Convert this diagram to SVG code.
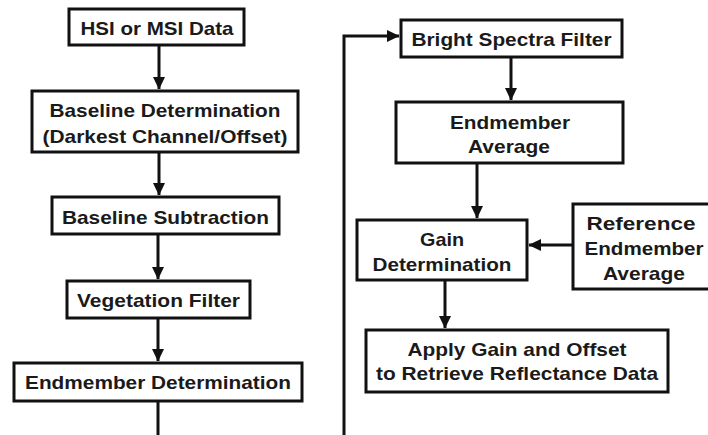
<svg xmlns="http://www.w3.org/2000/svg" width="708" height="435" viewBox="0 0 708 435">
<defs>
<style>
.box{fill:#fff;stroke:#111;stroke-width:3}
.t{font-family:"Liberation Sans",Arial,sans-serif;font-weight:bold;font-size:19px;fill:#1a1a1a;text-anchor:middle}
.c{fill:none;stroke:#111;stroke-width:3}
</style>
<marker id="ah" markerUnits="userSpaceOnUse" markerWidth="13" markerHeight="13" refX="12" refY="6.5" orient="auto" viewBox="0 0 13 13">
<path d="M0,0.5 L12.5,6.5 L0,12.5 z" fill="#111"/>
</marker>
</defs>
<rect width="708" height="435" fill="#fff"/>
<g id="connectors">
<path class="c" d="M159,45 V89" marker-end="url(#ah)"/>
<path class="c" d="M159,152 V195" marker-end="url(#ah)"/>
<path class="c" d="M158,234 V279" marker-end="url(#ah)"/>
<path class="c" d="M158,318 V361" marker-end="url(#ah)"/>
<path class="c" d="M158,401 V438 H344 V36 H399" marker-end="url(#ah)"/>
<path class="c" d="M511,57 V100" marker-end="url(#ah)"/>
<path class="c" d="M477,163 V218" marker-end="url(#ah)"/>
<path class="c" d="M573,245 H529" marker-end="url(#ah)"/>
<path class="c" d="M445,280 V328" marker-end="url(#ah)"/>
</g>
<g id="hsi">
<rect class="box" x="69" y="9" width="175" height="36"/>
<text class="t" x="157" y="35" textLength="153" lengthAdjust="spacingAndGlyphs">HSI or MSI Data</text>
</g>
<g id="baseline-det">
<rect class="box" x="32" y="91" width="266" height="61"/>
<text class="t" x="165" y="117" textLength="231" lengthAdjust="spacingAndGlyphs">Baseline Determination</text>
<text class="t" x="165" y="143" textLength="245" lengthAdjust="spacingAndGlyphs">(Darkest Channel/Offset)</text>
</g>
<g id="baseline-sub">
<rect class="box" x="52" y="197" width="227" height="37"/>
<text class="t" x="165.5" y="224" textLength="207" lengthAdjust="spacingAndGlyphs">Baseline Subtraction</text>
</g>
<g id="veg">
<rect class="box" x="67" y="281" width="183" height="37"/>
<text class="t" x="158.5" y="307" textLength="163" lengthAdjust="spacingAndGlyphs">Vegetation Filter</text>
</g>
<g id="endmember-det">
<rect class="box" x="14" y="363" width="288" height="38"/>
<text class="t" x="158" y="389" textLength="266" lengthAdjust="spacingAndGlyphs">Endmember Determination</text>
</g>
<g id="bright">
<rect class="box" x="401" y="20" width="221" height="37"/>
<text class="t" x="511.5" y="46" textLength="200" lengthAdjust="spacingAndGlyphs">Bright Spectra Filter</text>
</g>
<g id="endmember-avg">
<rect class="box" x="396" y="102" width="227" height="61"/>
<text class="t" x="510" y="129" textLength="120" lengthAdjust="spacingAndGlyphs">Endmember</text>
<text class="t" x="509" y="153" textLength="82" lengthAdjust="spacingAndGlyphs">Average</text>
</g>
<g id="gain">
<rect class="box" x="357" y="220" width="170" height="60"/>
<text class="t" x="442" y="246" textLength="44" lengthAdjust="spacingAndGlyphs">Gain</text>
<text class="t" x="442" y="271" textLength="139" lengthAdjust="spacingAndGlyphs">Determination</text>
</g>
<g id="reference">
<rect class="box" x="573" y="204" width="140" height="85"/>
<text class="t" x="641" y="230" textLength="109" lengthAdjust="spacingAndGlyphs">Reference</text>
<text class="t" x="644" y="255" textLength="119" lengthAdjust="spacingAndGlyphs">Endmember</text>
<text class="t" x="644" y="280" textLength="82" lengthAdjust="spacingAndGlyphs">Average</text>
</g>
<g id="apply">
<rect class="box" x="366" y="330" width="302" height="62"/>
<text class="t" x="517" y="356" textLength="219" lengthAdjust="spacingAndGlyphs">Apply Gain and Offset</text>
<text class="t" x="517" y="380" textLength="282" lengthAdjust="spacingAndGlyphs">to Retrieve Reflectance Data</text>
</g>
</svg>
